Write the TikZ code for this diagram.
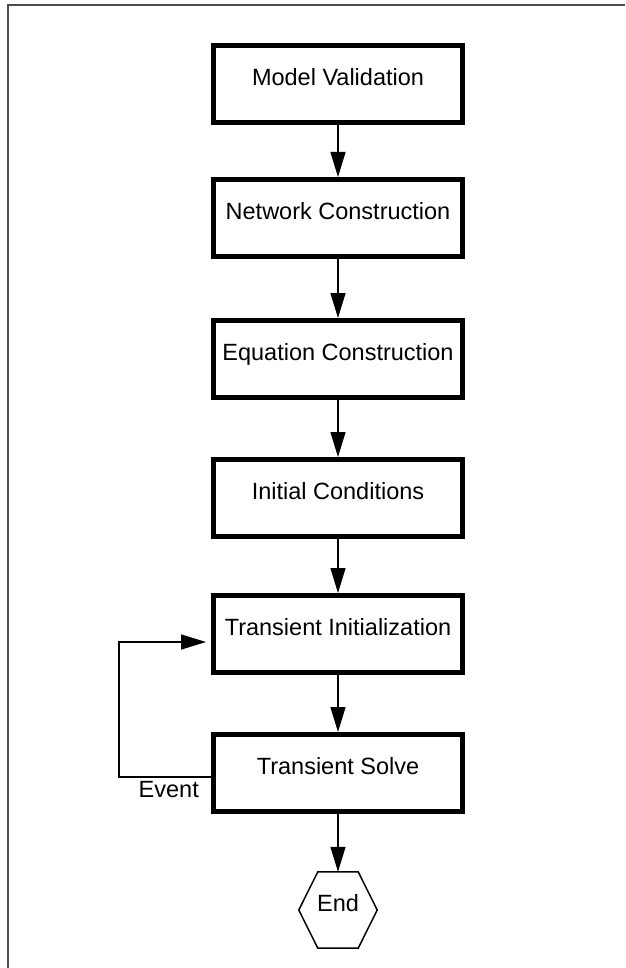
\documentclass[tikz,border=0pt]{standalone}
\usepackage{fontspec}
\setmainfont{Liberation Sans}
\usetikzlibrary{arrows.meta,calc}
\begin{document}
\begin{tikzpicture}[x=1pt,y=-1pt,
  lbl/.style={font=\fontsize{23.5}{28}\selectfont},
  stepbox/.style={lbl, draw, line width=5pt, fill=white, minimum width=249pt,
    minimum height=77pt, inner sep=0pt, text height=17pt, text depth=14pt},
  flow/.style={line width=1.5pt, -{Triangle[length=25pt,width=15pt]}},
]
\useasboundingbox (0,0) rectangle (625,968);
\draw[line width=2pt, black!70] (8,968) -- (8,5) -- (625,5);

\node[stepbox] (mv) at (338,84)  {Model Validation};
\node[stepbox] (nc) at (338,218) {Network Construction};
\node[stepbox] (ec) at (338,359) {Equation Construction};
\node[stepbox] (ic) at (338,498) {Initial Conditions};
\node[stepbox] (ti) at (338,634) {Transient Initialization};
\node[stepbox] (ts) at (338,773) {Transient Solve};

\node[lbl, minimum width=78pt, minimum height=76pt, inner sep=0pt,
  text height=17pt, text depth=15pt] (endn) at (338,910) {End};
\draw[line width=1.5pt] (endn.west) -- ($(endn.north west)+(19,0)$)
  -- ($(endn.north east)+(-19,0)$) -- (endn.east)
  -- ($(endn.south east)+(-19,0)$) -- ($(endn.south west)+(19,0)$) -- cycle;

\draw[flow] (mv) -- (nc);
\draw[flow] (nc) -- (ec);
\draw[flow] (ec) -- (ic);
\draw[flow] (ic) -- (ti);
\draw[flow] (ti) -- (ts);
\draw[flow] (ts) -- (endn);

\coordinate (lpb) at (119,777);
\coordinate (lpt) at (119,642);
\coordinate (lpe) at ($(ti.west)+(-5,8)$);
\draw[flow] ($(ts.west)+(0,4)$) -- (lpb) -- (lpt) -- (lpe);

\node[lbl, anchor=base east, inner sep=0pt] (ev) at (199,797) {Event};
\end{tikzpicture}
\end{document}
